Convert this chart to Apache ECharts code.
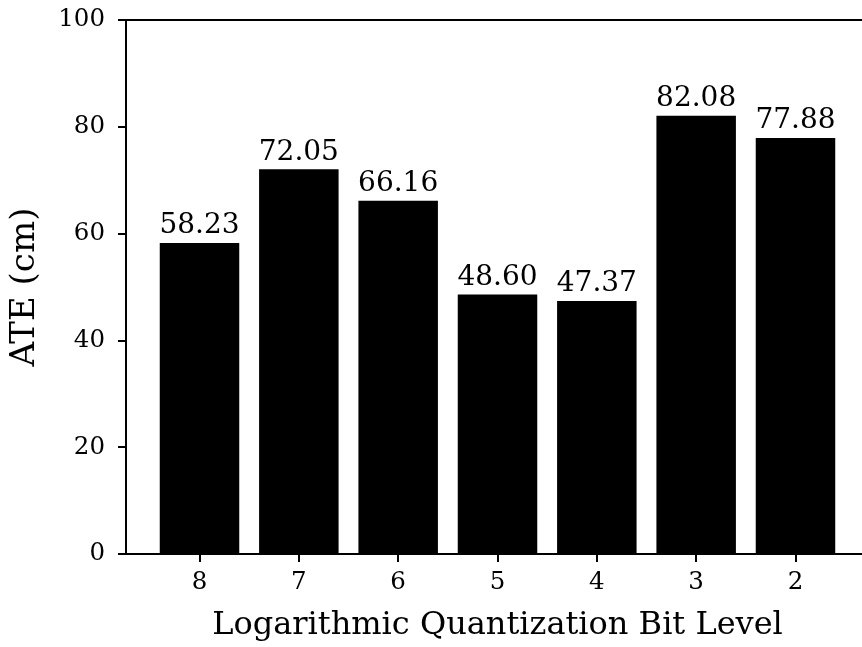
<!DOCTYPE html>
<html>
<head>
<meta charset="utf-8">
<script src="https://cdn.jsdelivr.net/npm/echarts@6/dist/echarts.min.js"></script>
<style>
html,body{margin:0;padding:0;background:#fff;overflow:hidden;}
/* the plot frame runs a little past the right edge of the window */
#chart{width:870px;height:647px;}
</style>
</head>
<body>
<div id="chart"></div>
<script>
// Bit levels on the x axis and the ATE measured at each one
const bitLevels = ['8', '7', '6', '5', '4', '3', '2'];
const ateValues = [58.23, 72.05, 66.16, 48.60, 47.37, 82.08, 77.88];
const yTicks = [0, 20, 40, 60, 80, 100];

const FONT = '"DejaVu Serif", serif';
const positions = bitLevels.map((_, i) => i);

const chart = echarts.init(document.getElementById('chart'), null, { renderer: 'canvas' });
chart.setOption({
  animation: false,
  backgroundColor: '#fff',
  grid: { left: 126, top: 20, right: 1, bottom: 91, containLabel: false },
  xAxis: {
    type: 'value',
    min: -0.74,
    max: 6.74,
    name: 'Logarithmic Quantization Bit Level',
    nameLocation: 'middle',
    nameGap: 56,
    nameTextStyle: { fontFamily: FONT, fontSize: 32, color: '#000' },
    splitLine: { show: false },
    axisLine: { show: true, onZero: false, lineStyle: { color: '#000', width: 2 } },
    axisTick: { show: true, customValues: positions, length: 8, lineStyle: { color: '#000', width: 2 } },
    axisLabel: {
      customValues: positions,
      formatter: v => bitLevels[Math.round(v)],
      fontFamily: FONT, fontSize: 24.5, color: '#000', margin: 16
    }
  },
  yAxis: {
    type: 'value',
    min: 0,
    max: 100,
    interval: 20,
    name: 'ATE (cm)',
    nameLocation: 'middle',
    nameGap: 84,
    nameTextStyle: { fontFamily: FONT, fontSize: 34, color: '#000' },
    splitLine: { show: false },
    axisLine: { show: true, onZero: false, lineStyle: { color: '#000', width: 2 } },
    axisTick: { show: true, length: 8, lineStyle: { color: '#000', width: 2 } },
    axisLabel: {
      customValues: yTicks,
      fontFamily: FONT, fontSize: 24.5, color: '#000', margin: 21
    }
  },
  series: [{
    type: 'bar',
    data: ateValues.map((v, i) => [i, v]),
    barWidth: 79.5,
    itemStyle: { color: '#000' },
    label: {
      show: true,
      position: 'top',
      distance: 3,
      formatter: p => p.value[1].toFixed(2),
      fontFamily: FONT, fontSize: 28, color: '#000'
    }
  }],
  graphic: [{
    type: 'line',
    shape: { x1: 126, y1: 20, x2: 869, y2: 20 },
    style: { stroke: '#000', lineWidth: 2 }
  }]
});
</script>
</body>
</html>
